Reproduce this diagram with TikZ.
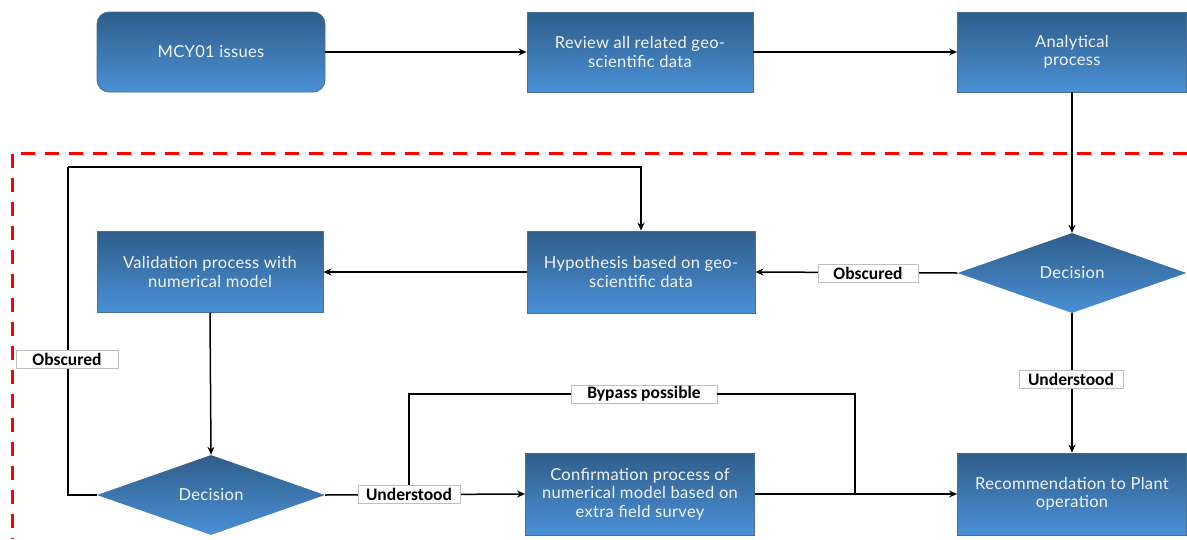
\documentclass[tikz,border=0pt]{standalone}
\usepackage{fontspec}
\setmainfont{Carlito}
\newfontfamily\boxfont[LetterSpace=2]{Lato}
\usetikzlibrary{shapes.geometric,arrows.meta}
\definecolor{topblue}{HTML}{2F5D8A}
\definecolor{botblue}{HTML}{4A91D6}
\definecolor{edgeblue}{HTML}{41719C}
\definecolor{lblgray}{HTML}{BFBFBF}
\definecolor{txtwhite}{HTML}{F2F2F2}
\tikzset{
  x=1pt,y=-1pt,
  flowbox/.style={rectangle, draw=edgeblue, line width=0.8pt, top color=topblue, bottom color=botblue,
    text=txtwhite, font=\boxfont\fontsize{16.5}{18.5}\selectfont, align=center, inner sep=2pt},
  flowdia/.style={diamond, draw=none, top color=topblue, bottom color=botblue,
    text=txtwhite, font=\boxfont\fontsize{16.5}{18.5}\selectfont, align=center, inner sep=0pt},
  lbl/.style={rectangle, draw=lblgray, line width=0.8pt, fill=white, font=\bfseries\fontsize{17.5}{19}\selectfont,
    inner sep=0pt, minimum height=18pt},
  conn/.style={draw=black, line width=1.5pt},
  arr/.style={conn, -{Stealth[length=8pt,width=7pt]}},
}
\begin{document}
\begin{tikzpicture}
\useasboundingbox (0,0) rectangle (1187,539);
% red dashed frame
\draw[red, line width=3pt, dash pattern=on 14pt off 10pt] (1187,153) -- (12,153) -- (12,539);

% nodes
\node[flowbox, rounded corners=12pt, minimum width=228pt, minimum height=80pt] (mcy) at (211,52) {MCY01 issues};
\node[flowbox, minimum width=226pt, minimum height=80pt] (rev) at (640,52) {Review all related geo-\\scientific data};
\node[flowbox, minimum width=229pt, minimum height=80pt] (ana) at (1072,52) {Analytical\\process};
\node[flowdia, minimum width=229pt, minimum height=80pt] (dr) at (1072,273) {Decision};
\node[flowbox, minimum width=228pt, minimum height=82pt] (hyp) at (641,272) {Hypothesis based on geo-\\scientific data};
\node[flowbox, minimum width=226pt, minimum height=81pt] (val) at (210,272) {Validation process with\\numerical model};
\node[flowdia, minimum width=228pt, minimum height=80pt] (dl) at (211,495) {Decision};
\node[flowbox, minimum width=229pt, minimum height=82pt] (conf) at (640,494) {Confirmation process of\\numerical model based on\\extra field survey};
\node[flowbox, minimum width=229pt, minimum height=82pt] (rec) at (1072,494) {Recommendation to Plant\\operation};

\coordinate (lt) at (68,167);
\coordinate (bj) at (855,494);

% connectors
\draw[arr] (mcy.east) -- (rev.west);
\draw[arr] (rev.east) -- (ana.west);
\draw[arr] (ana.south) -- (dr.north);
\draw[arr] (dr.west) -- (hyp.east);
\draw[arr] (hyp.west) -- (val.west -| val.east);
\draw[arr] (val.south) -- (dl.north);
\draw[arr] (dl.east) -- (conf.west);
\draw[arr] (dr.south) -- (rec.north);
\draw[arr] (conf.east) -- (rec.west);
\draw[conn] (dl.west) -| (lt);
\draw[arr] (lt) -| (hyp.north);

% labels
\node[lbl, minimum width=102pt] (obl) at (67,359) {Obscured};
\node[lbl, minimum width=100pt] (obr) at (868,273) {Obscured};
\node[lbl, minimum width=104pt] (unr) at (1071,379) {Understood};
\node[lbl, minimum width=102pt] (unl) at (409,494) {Understood};
\node[lbl, minimum width=146pt] (byp) at (644,394) {Bypass possible};

\draw[conn] (unl.north) |- (byp.west);
\draw[conn] (byp.east) -| (bj);
\end{tikzpicture}
\end{document}
